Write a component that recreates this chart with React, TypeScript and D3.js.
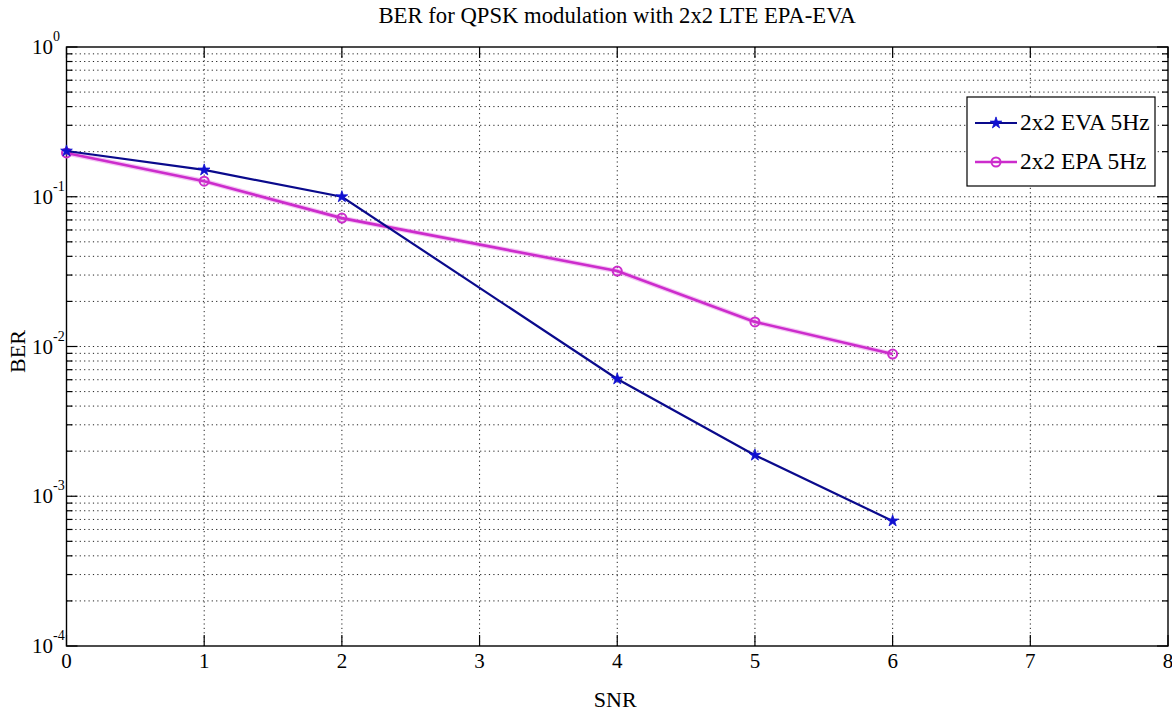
import React, { useEffect, useRef } from "react";
import * as d3 from "d3";

// values
const snr = [0, 1, 2, 4, 5, 6];
const berEVA = [0.202, 0.151, 0.1, 0.00607, 0.00188, 0.000684];
const berEPA = [0.196, 0.127, 0.072, 0.0319, 0.0146, 0.0089];
const seriesNames = ["2x2 EVA 5Hz", "2x2 EPA 5Hz"];
const xTicks = [0, 1, 2, 3, 4, 5, 6, 7, 8];
const yExponents = [0, -1, -2, -3, -4];
const titleText = "BER for QPSK modulation with 2x2 LTE EPA-EVA";

const W = 1172;
const H = 711;
const FONT = "'Liberation Serif', 'Times New Roman', serif";

export default function App() {
  const ref = useRef<SVGSVGElement>(null);

  useEffect(() => {
    const svg = d3.select(ref.current);
    svg.selectAll("*").remove();

    const left = 66.5, right = 1168, top = 47, bottom = 646;
    const x = d3.scaleLinear().domain([0, 8]).range([left, right]);
    const y = d3.scaleLog().domain([1e-4, 1]).range([bottom, top]);

    svg.append("rect").attr("width", W).attr("height", H).attr("fill", "#fff");

    const grid = svg.append("g").attr("stroke", "#222").attr("stroke-width", 1)
      .attr("stroke-dasharray", "1.2,3.2");

    // minor + major y values
    const yVals: number[] = [];
    for (let e = -4; e < 0; e++) {
      for (let m = 1; m <= 9; m++) yVals.push(m * Math.pow(10, e));
    }
    yVals.push(1);

    yVals.filter(v => v > 1e-4 && v < 1).forEach(v => {
      grid.append("line")
        .attr("x1", left).attr("x2", right)
        .attr("y1", y(v)).attr("y2", y(v));
    });
    xTicks.filter(t => t > 0 && t < 8).forEach(t => {
      grid.append("line")
        .attr("x1", x(t)).attr("x2", x(t))
        .attr("y1", top).attr("y2", bottom);
    });

    // ticks (inside, on all four sides)
    const ticks = svg.append("g").attr("stroke", "#000").attr("stroke-width", 1.2);
    xTicks.forEach(t => {
      ticks.append("line").attr("x1", x(t)).attr("x2", x(t)).attr("y1", bottom).attr("y2", bottom - 11);
      ticks.append("line").attr("x1", x(t)).attr("x2", x(t)).attr("y1", top).attr("y2", top + 11);
    });
    yVals.forEach(v => {
      const major = Math.abs(Math.log10(v) - Math.round(Math.log10(v))) < 1e-9;
      const len = major ? 11 : 6;
      ticks.append("line").attr("x1", left).attr("x2", left + len).attr("y1", y(v)).attr("y2", y(v));
      ticks.append("line").attr("x1", right).attr("x2", right - len).attr("y1", y(v)).attr("y2", y(v));
    });

    // box
    svg.append("rect")
      .attr("x", left).attr("y", top)
      .attr("width", right - left).attr("height", bottom - top)
      .attr("fill", "none").attr("stroke", "#000").attr("stroke-width", 1.4);

    // x tick labels
    svg.append("g").selectAll("text").data(xTicks).join("text")
      .attr("x", d => x(d)).attr("y", bottom + 22)
      .attr("text-anchor", "middle")
      .attr("font-family", FONT).attr("font-size", 21)
      .text(d => d);

    // y tick labels 10^e
    yExponents.forEach(e => {
      const yy = y(Math.pow(10, e));
      const t = svg.append("text").attr("font-family", FONT).attr("font-size", 21)
        .attr("x", 32).attr("y", yy + 7);
      t.append("tspan").text("10");
      t.append("tspan").attr("font-size", 14).attr("dy", -13).text(String(e));
    });

    // title and axis labels
    svg.append("text").attr("x", (left + right) / 2).attr("y", 23)
      .attr("text-anchor", "middle").attr("font-family", FONT).attr("font-size", 22.7)
      .text(titleText);
    svg.append("text").attr("x", (left + right) / 2 - 2).attr("y", 707)
      .attr("text-anchor", "middle").attr("font-family", FONT).attr("font-size", 22)
      .text("SNR");
    svg.append("text")
      .attr("transform", `translate(25, ${(top + bottom) / 2 + 5}) rotate(-90)`)
      .attr("text-anchor", "middle").attr("font-family", FONT).attr("font-size", 22)
      .text("BER");

    const line = d3.line<[number, number]>().x(d => x(d[0])).y(d => y(d[1]));
    const epaPts = snr.map((s, i) => [s, berEPA[i]] as [number, number]);
    const evaPts = snr.map((s, i) => [s, berEVA[i]] as [number, number]);

    const magenta = "#cc2ccc";
    const blue = "#0a0a8c";
    const star = d3.symbol().type(d3.symbolStar).size(42);

    // EPA (magenta, open circles) - slight glow
    svg.append("path").datum(epaPts).attr("d", line)
      .attr("fill", "none").attr("stroke", "#e98ee9").attr("stroke-width", 5).attr("opacity", 0.5);
    svg.append("path").datum(epaPts).attr("d", line)
      .attr("fill", "none").attr("stroke", magenta).attr("stroke-width", 2.6);
    svg.append("g").selectAll("circle").data(epaPts).join("circle")
      .attr("cx", d => x(d[0])).attr("cy", d => y(d[1])).attr("r", 4.5)
      .attr("fill", "none").attr("stroke", magenta).attr("stroke-width", 2);

    // EVA (blue, star markers)
    svg.append("path").datum(evaPts).attr("d", line)
      .attr("fill", "none").attr("stroke", blue).attr("stroke-width", 2.2);
    svg.append("g").selectAll("path").data(evaPts).join("path")
      .attr("d", star)
      .attr("transform", d => `translate(${x(d[0])},${y(d[1])})`)
      .attr("fill", "#1010d0").attr("stroke", "#1010d0").attr("stroke-width", 0.8);

    // legend
    const lg = svg.append("g");
    lg.append("rect").attr("x", 967).attr("y", 97).attr("width", 188).attr("height", 89)
      .attr("fill", "#fff").attr("stroke", "#000").attr("stroke-width", 1.2);
    const rows = [
      { name: seriesNames[0], color: blue, yy: 123 },
      { name: seriesNames[1], color: magenta, yy: 162 },
    ];
    rows.forEach((r, i) => {
      lg.append("line").attr("x1", 975).attr("x2", 1017).attr("y1", r.yy).attr("y2", r.yy)
        .attr("stroke", r.color).attr("stroke-width", i === 0 ? 2.2 : 2.6);
      if (i === 0) {
        lg.append("path").attr("d", star).attr("transform", `translate(996,${r.yy})`)
          .attr("fill", "#1010d0").attr("stroke", "#1010d0").attr("stroke-width", 0.8);
      } else {
        lg.append("circle").attr("cx", 996).attr("cy", r.yy).attr("r", 4.5)
          .attr("fill", "none").attr("stroke", magenta).attr("stroke-width", 2);
      }
      lg.append("text").attr("x", 1020).attr("y", r.yy + 7)
        .attr("font-family", FONT).attr("font-size", 23.4).text(r.name);
    });
  }, []);

  return (
    <svg ref={ref} width={W} height={H}
      style={{ position: "absolute", left: 0, top: 0, display: "block" }} />
  );
}
